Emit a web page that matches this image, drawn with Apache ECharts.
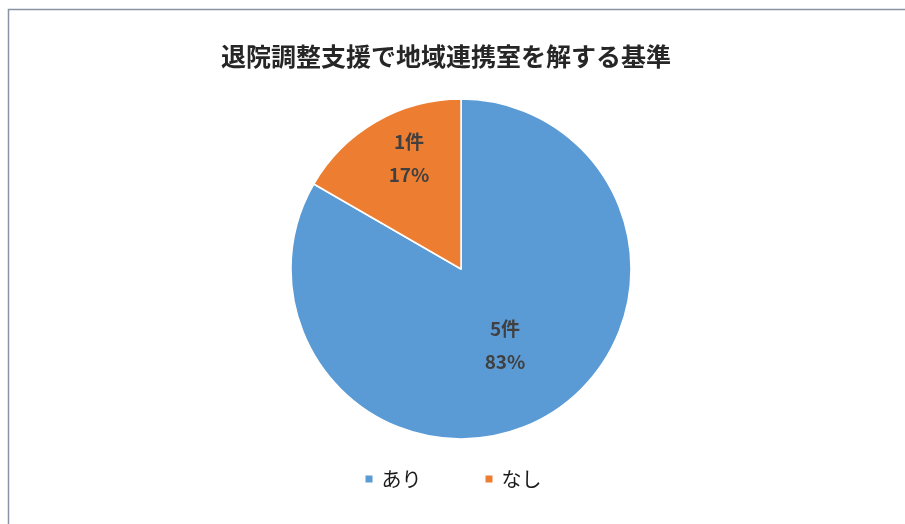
<!DOCTYPE html>
<html>
<head>
<meta charset="utf-8">
<script src="https://cdn.jsdelivr.net/npm/echarts@6/dist/echarts.min.js"></script>
<style>
  html, body { margin: 0; padding: 0; background: #fff; }
  #chart { width: 905px; height: 524px; }
</style>
</head>
<body>
<div id="chart"></div>
<script>
  const titleText = '退院調整支援で地域連携室を解する基準'
  const categories = ['あり', 'なし']
  const counts = [5, 1]
  const colors = ['#5b9bd5', '#ed7d31']

  const font = "'Noto Sans CJK JP', 'Noto Sans', sans-serif"
  const chart = echarts.init(document.getElementById('chart'))

  const option = {
    animation: false,
    graphic: [
      {
        type: 'rect',
        shape: { x: 8.5, y: 9.5, width: 1000, height: 1000 },
        style: { fill: 'none', stroke: '#8a93a5', lineWidth: 1.5 },
        silent: true
      }
    ],
    title: {
      text: titleText,
      left: 216,
      top: 39,
      textStyle: {
        fontFamily: font,
        fontSize: 25,
        fontWeight: 'bold',
        color: '#262626'
      }
    },
    legend: {
      data: categories,
      bottom: 30,
      left: 'center',
      icon: 'rect',
      itemWidth: 9,
      itemHeight: 9,
      itemGap: 62,
      textStyle: {
        fontFamily: font,
        fontSize: 20,
        color: '#1a1a1a',
        padding: [0, 0, 0, 3]
      }
    },
    series: [
      {
        type: 'pie',
        center: [461, 269],
        radius: 170,
        startAngle: 90,
        clockwise: true,
        itemStyle: { borderColor: '#fff', borderWidth: 1.5 },
        label: {
          position: 'inside',
          formatter: p => p.value + '件\n' + Math.round(p.percent) + '%',
          fontFamily: font,
          fontSize: 19,
          fontWeight: 'bold',
          color: '#404040',
          lineHeight: 33
        },
        labelLayout: function (params) {
          if (params.dataIndex === 1) {
            return { dx: -8, dy: -35 }
          }
          return {}
        },
        labelLine: { show: false },
        emphasis: { disabled: true },
        data: categories.map((name, i) => ({
          name,
          value: counts[i],
          itemStyle: { color: colors[i] }
        }))
      }
    ]
  }
  chart.setOption(option)
</script>
</body>
</html>
